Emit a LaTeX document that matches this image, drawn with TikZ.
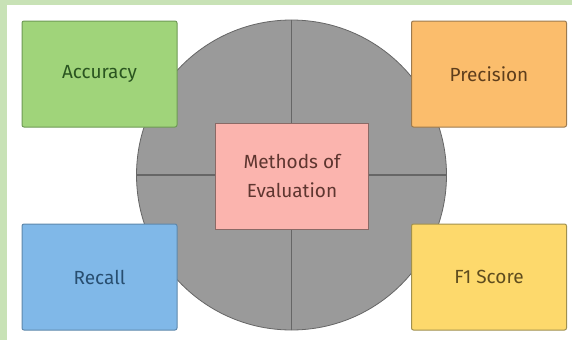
\documentclass[tikz,border=0pt]{standalone}
\usepackage{fontspec}
\setmainfont{Fira Sans}
\definecolor{bandgreen}{HTML}{C8E2B6}
\definecolor{accfill}{HTML}{A0D47A}
\definecolor{accdraw}{HTML}{6E9A55}
\definecolor{acctext}{HTML}{2A5520}
\definecolor{prefill}{HTML}{FBBD6C}
\definecolor{predraw}{HTML}{9C7A4E}
\definecolor{pretext}{HTML}{5E3E1C}
\definecolor{recfill}{HTML}{80B8E8}
\definecolor{recdraw}{HTML}{5E88AC}
\definecolor{rectext}{HTML}{284E70}
\definecolor{f1fill}{HTML}{FDD96C}
\definecolor{f1draw}{HTML}{A0904E}
\definecolor{f1text}{HTML}{5E4C1E}
\definecolor{cenfill}{HTML}{FBB4AE}
\definecolor{cendraw}{HTML}{8A6A66}
\definecolor{centext}{HTML}{5E3630}
\definecolor{circfill}{HTML}{9A9A9A}
\definecolor{circdraw}{HTML}{666666}
\tikzset{
  card/.style={rectangle, rounded corners=2pt, line width=1pt, minimum width=155pt, minimum height=106pt, inner sep=0pt, font=\fontsize{19}{23}\selectfont, align=center},
}
\begin{document}
\begin{tikzpicture}[x=1pt,y=-1pt]
\useasboundingbox (0,0) rectangle (572,340);
\fill[white] (0,0) rectangle (572,340);
\fill[bandgreen] (0,0) rectangle (572,5);
\fill[bandgreen] (0,0) rectangle (7,340);
% circle
\node (circ) [circle, fill=circfill, draw=circdraw, line width=0.8pt, minimum size=310pt, inner sep=0pt] at (291.5,175) {};
\draw[circdraw, line width=1.2pt] (circ.north) -- (circ.south);
\draw[circdraw, line width=1.2pt] (circ.west) -- (circ.east);
% boxes
\node (acc) [card, fill=accfill, draw=accdraw, text=acctext] at (99.5,74) {Accuracy};
\node (pre) [card, fill=prefill, draw=predraw, text=pretext] at (489,74) {Precision};
\node (rec) [card, fill=recfill, draw=recdraw, text=rectext] at (99.5,277) {Recall};
\node (f1) [card, fill=f1fill, draw=f1draw, text=f1text] at (489,277) {F1 Score};
\node (cen) [card, rounded corners=0pt, minimum width=153pt, fill=cenfill, draw=cendraw, line width=0.8pt, text=centext] at (292,176) {Methods of\\[6pt]Evaluation};
\end{tikzpicture}
\end{document}
